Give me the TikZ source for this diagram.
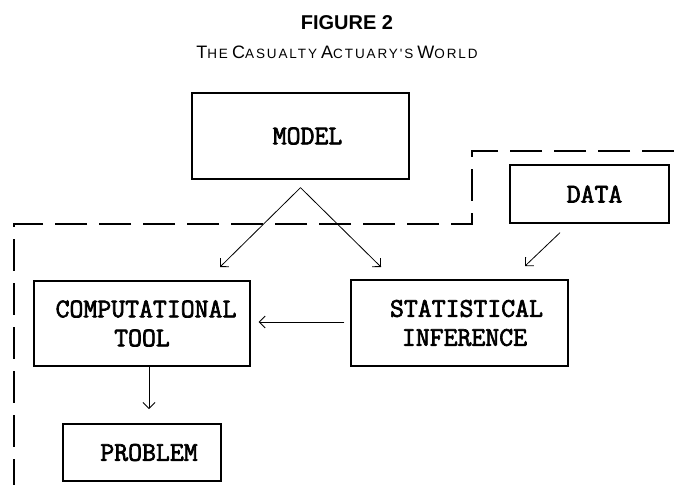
\documentclass[tikz,border=0pt]{standalone}
\usepackage{fontspec}
\setmainfont{Liberation Sans}
\newfontfamily\boxfont{Latin Modern Mono}[FakeBold=2.5]
\newfontfamily\subfont{Liberation Sans}[LetterSpace=14]
\usetikzlibrary{arrows.meta,calc}
\newcommand\capA[1]{{\fontsize{18}{18}\selectfont #1}}
\newcommand\capB[1]{{\fontsize{13.5}{13.5}\selectfont #1}}
\begin{document}
\begin{tikzpicture}[x=1pt,y=-1pt,
  block/.style={draw,line width=1.3pt,inner sep=0pt,align=center,
    font=\boxfont\fontsize{27}{29}\selectfont},
  link/.style={line width=0.8pt,-{Straight Barb[length=6pt,width=12pt,line width=0.8pt]}},
  fence/.style={line width=2pt,dash pattern=on 32pt off 12pt}]
\useasboundingbox (0,0) rectangle (674,485);
% title
\node (fig) at (347,23) {\fontsize{20}{20}\selectfont\bfseries FIGURE 2};
\node (sub) at (337,52) {\subfont\capA{T}\capB{HE} \capA{C}\capB{ASUALTY} \capA{A}\capB{CTUARY'S} \capA{W}\capB{ORLD}};
% boxes
\node[block,minimum width=217pt,minimum height=86pt] (model) at (300.5,136) {MODEL\hspace*{-14pt}};
\node[block,minimum width=159pt,minimum height=58pt] (data) at (589.5,194) {\hspace*{10pt}DATA};
\node[block,minimum width=216pt,minimum height=85pt] (comp) at (142,323.5) {\hspace*{8pt}COMPUTATIONAL\\TOOL};
\node[block,minimum width=217pt,minimum height=86pt] (stat) at (459.5,323) {\hspace*{14pt}STATISTICAL\\\hspace*{10pt}INFERENCE};
\node[block,minimum width=158pt,minimum height=57pt] (prob) at (142,452.5) {\hspace*{14pt}PROBLEM};
% the dashed boundary
\draw[fence] (674,151) -- (472,151) -- (472,224) -- (14,224) -- (14,485);
% connectors
\coordinate (apex) at ($(model.south)+(0,8)$);
\coordinate (compin) at (220,267);
\coordinate (statin) at (381,267);
\coordinate (datain) at (525,266);
\coordinate (probin) at (149,409);
\draw[link] (apex) -- (compin);
\draw[link] (apex) -- (statin);
\draw[link] ($(data.south)+(-29.5,9)$) -- (datain);
\draw[link] ($(stat.west)+(-6,-1)$) -- ($(comp.east)+(8,-1.5)$);
\draw[link] ($(comp.south)+(7,0)$) -- (probin);
\end{tikzpicture}
\end{document}
